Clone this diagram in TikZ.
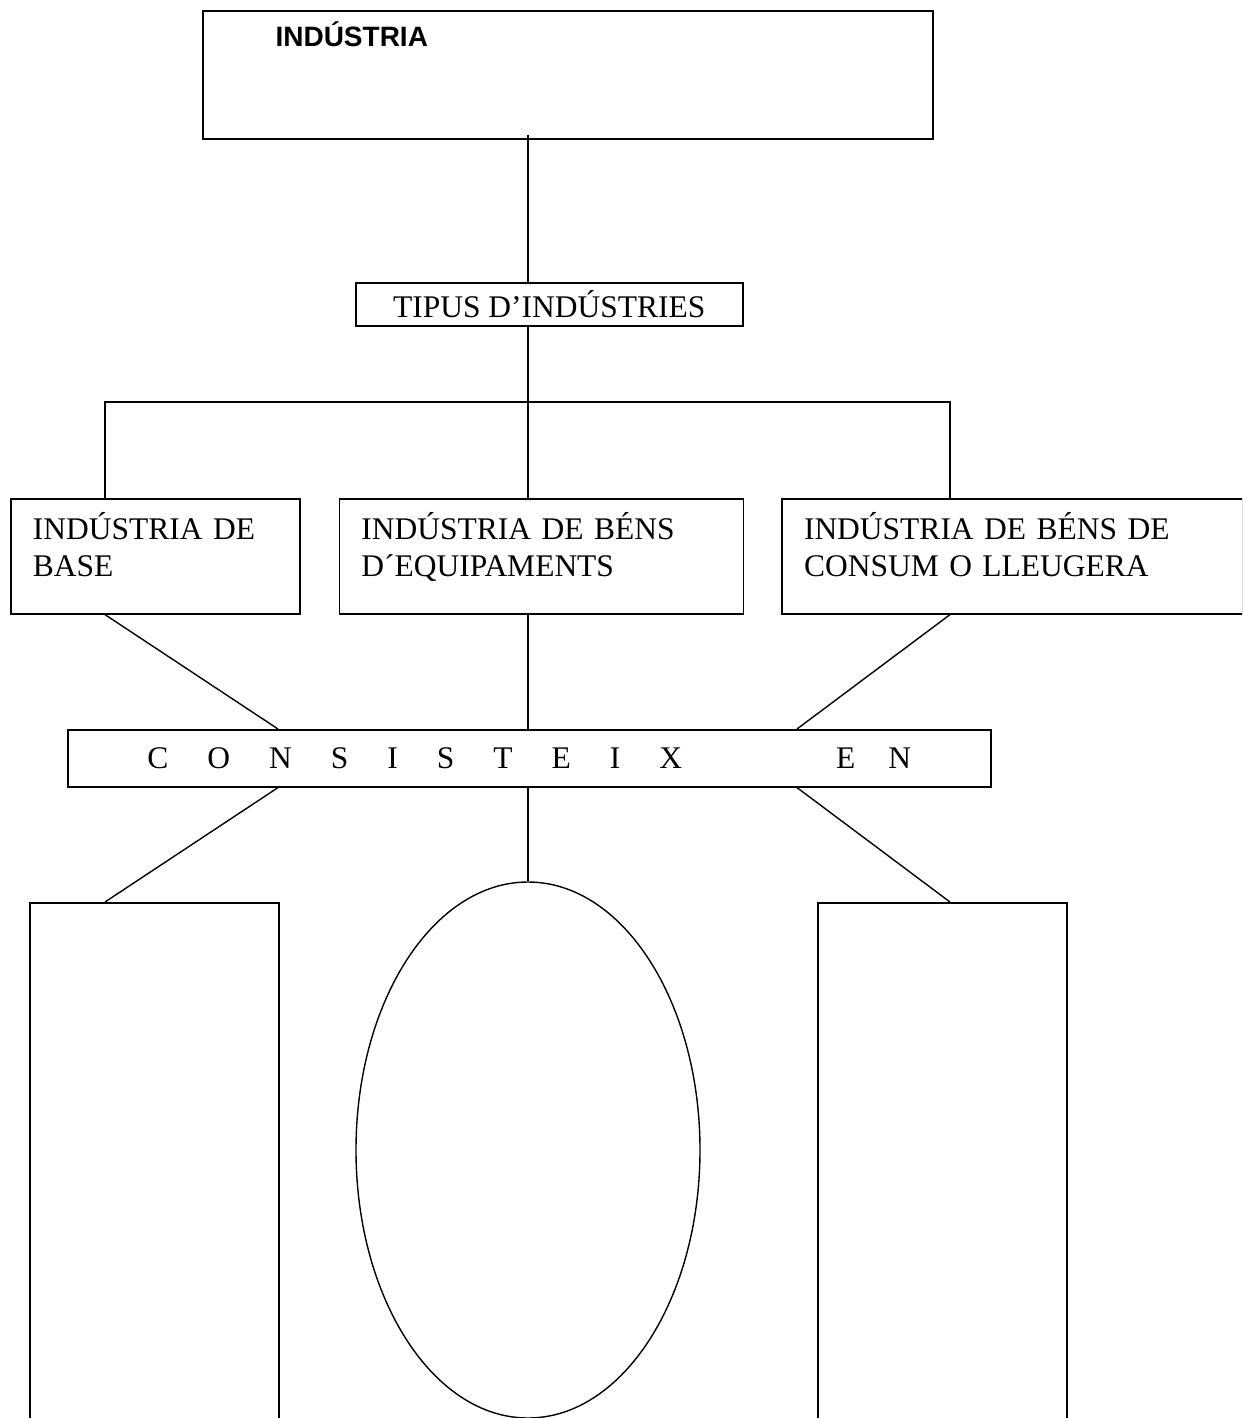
\documentclass[tikz,border=0pt]{standalone}
\usepackage{fontspec}
\setmainfont{Liberation Serif}
\newfontfamily\headfont{Liberation Sans}
\usepackage{tikz}
\usetikzlibrary{shapes.geometric, positioning, calc}
\newcommand{\letgap}{\hspace{39pt}}

\begin{document}
\begin{tikzpicture}[
    x=1pt, y=-1pt,
    every node/.style={font=\fontsize{31.5}{37}\selectfont},
    frame/.style={rectangle, draw, line width=1.6pt, inner sep=0pt, anchor=north west},
    kindbox/.style={rectangle, draw, line width=1.6pt, anchor=north west, inner xsep=22pt, inner ysep=0pt, text height=41pt, text depth=74pt, align=left},
    link/.style={line width=1.4pt}
]
\useasboundingbox (0,0) rectangle (1242,1418);
\clip (0,0) rectangle (1242,1418);
\coordinate (spine) at (528,0);
\coordinate (colA) at (105,0);
\coordinate (colC) at (950,0);
\coordinate (jointA) at (278,0);
\coordinate (jointC) at (797,0);
\coordinate (fork) at (528,402);
\node[frame, minimum width=730pt, minimum height=128pt,
      label={[anchor=base west, xshift=70pt, yshift=-37pt, font=\headfont\bfseries\fontsize{28}{32}\selectfont]north west:INDÚSTRIA}] (topbox) at (202,10) {};
\node[frame, minimum width=387pt, minimum height=43pt] (tipus) at (355,282) {TIPUS D’INDÚSTRIES};
\node[kindbox, text width=245pt] (base) at (10,498) {INDÚSTRIA DE\\BASE};
\node[kindbox, text width=360pt, right=38pt of base] (equip) {INDÚSTRIA DE BÉNS\\D´EQUIPAMENTS};
\node[kindbox, text width=417pt, right=37pt of equip] (lleu) {INDÚSTRIA DE BÉNS DE\\CONSUM O LLEUGERA};
\node[frame, minimum width=923pt, minimum height=57pt] (consist) at (67,729) {C\letgap O\letgap N\letgap S\letgap I\letgap S\letgap T\letgap E\letgap I\letgap X\hspace{154pt}E\hspace{33pt}N};
\node[frame, minimum width=249pt, minimum height=600pt] (rectA) at (29,902) {};
\node[frame, minimum width=249pt, minimum height=600pt] (rectC) at (817,902) {};
\node[ellipse, draw, line width=1.4pt, minimum width=344pt, minimum height=536pt, inner sep=0pt] (ovalmid) at (528,1150) {};
\coordinate (stem) at (topbox.south -| spine);
\draw[link] ([yshift=5pt]stem) -- (tipus.north -| spine);
\draw[link] (tipus.south -| spine) -- (equip.north -| spine);
\draw[link] (base.north -| colA) |- (fork) -| (lleu.north -| colC);
\draw[link] (base.south -| colA) -- (consist.north -| jointA);
\draw[link] (equip.south -| spine) -- (consist.north -| spine);
\draw[link] (lleu.south -| colC) -- (consist.north -| jointC);
\draw[link] (consist.south -| jointA) -- (rectA.north -| colA);
\draw[link] (consist.south -| spine) -- (ovalmid.north);
\draw[link] (consist.south -| jointC) -- (rectC.north -| colC);
\end{tikzpicture}
\end{document}
